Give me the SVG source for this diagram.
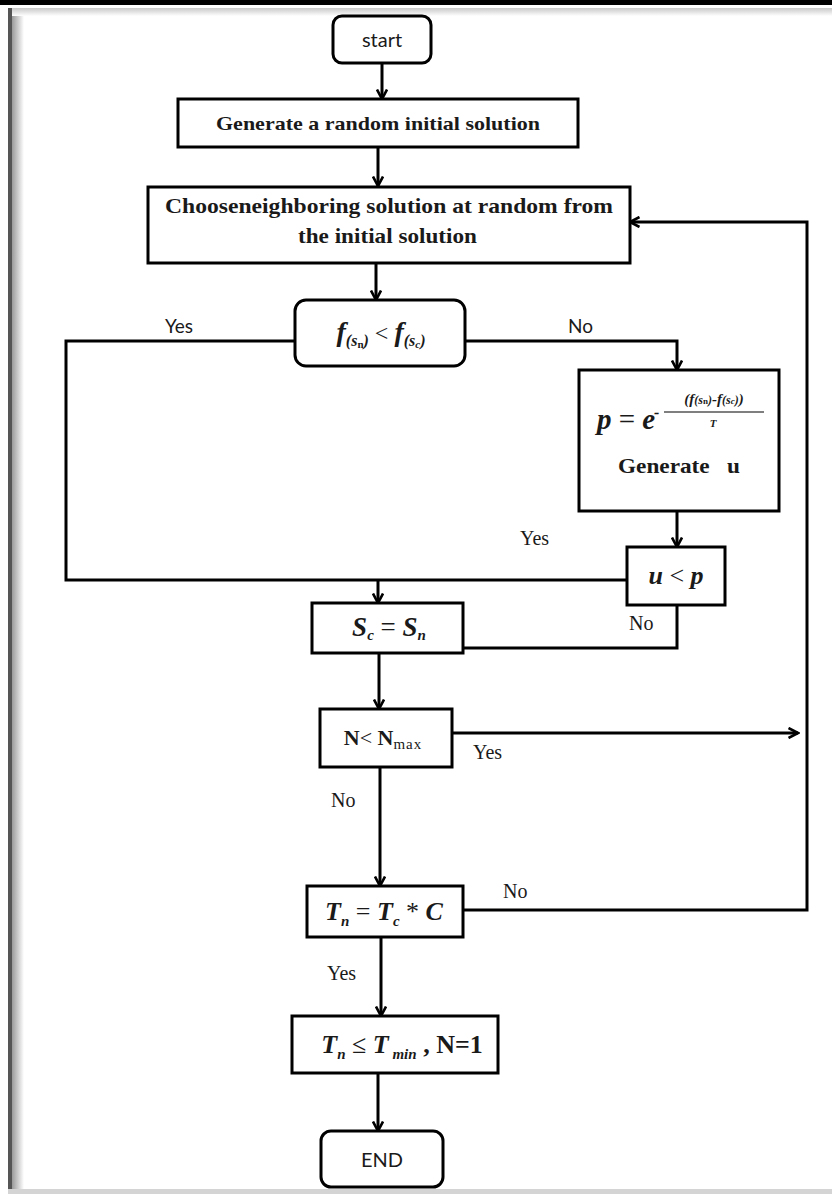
<svg xmlns="http://www.w3.org/2000/svg" width="832" height="1194" viewBox="0 0 832 1194">
<defs>
<marker id="arr" viewBox="0 0 12 12" refX="10.5" refY="6" markerWidth="12" markerHeight="12" markerUnits="userSpaceOnUse" orient="auto">
<path d="M1,1 L10.5,6 L1,11" fill="none" stroke="#000" stroke-width="2.6"/>
</marker>
<linearGradient id="gl" x1="0" y1="0" x2="1" y2="0">
<stop offset="0" stop-color="#9a9a9a"/><stop offset="1" stop-color="#ffffff"/>
</linearGradient>
<linearGradient id="gt" x1="0" y1="0" x2="0" y2="1">
<stop offset="0" stop-color="#c8c8c8"/><stop offset="1" stop-color="#ffffff"/>
</linearGradient>
</defs>
<style>
.box{fill:#fff;stroke:#000;stroke-width:3}
.con{fill:none;stroke:#000;stroke-width:3}
.arw{fill:none;stroke:#000;stroke-width:3;marker-end:url(#arr)}
.sb{font-family:"Liberation Serif",serif;font-weight:bold;fill:#1a1a1a}
.mi{font-family:"Liberation Serif",serif;font-weight:bold;font-style:italic;fill:#1a1a1a}
.ss{font-family:Lato,"Liberation Sans",sans-serif;fill:#1a1a1a}
.sl{font-family:"Liberation Serif",serif;fill:#1a1a1a;font-size:20px}
</style>
<rect x="0" y="0" width="832" height="1194" fill="#fff"/>
<g id="frame">
<rect x="12" y="8" width="12" height="1182" fill="url(#gl)"/>
<rect x="12" y="8" width="820" height="8" fill="url(#gt)"/>
<rect x="8" y="8" width="4" height="1186" fill="#555"/>
<rect x="0" y="0" width="832" height="5" fill="#000"/>
<rect x="8" y="1189" width="824" height="5" fill="#d4d4d4"/>
</g>
<g id="connectors">
<path class="arw" d="M382 63 V99"/>
<path class="arw" d="M378 147 V186"/>
<path class="arw" d="M376 263 V300"/>
<path class="con" d="M295 341 H66 V580 H627"/>
<path class="arw" d="M378 580 V603"/>
<path class="arw" d="M465 341 H677 V370"/>
<path class="arw" d="M677 511 V547"/>
<path class="arw" d="M677 605 V648 H400"/>
<path class="arw" d="M379 653 V709"/>
<path class="arw" d="M452 733 H798"/>
<path class="arw" d="M380 767 V886"/>
<path class="arw" d="M463 910 H807 V222 H630"/>
<path class="arw" d="M381 937 V1016"/>
<path class="arw" d="M378 1073 V1131"/>
</g>
<g id="labels">
<text class="ss" x="165" y="333" font-size="19">Yes</text>
<text class="ss" x="568" y="333" font-size="19">No</text>
<text class="sl" x="520" y="545">Yes</text>
<text class="sl" x="629" y="630">No</text>
<text class="sl" x="473" y="759">Yes</text>
<text class="sl" x="331" y="807">No</text>
<text class="sl" x="503" y="898">No</text>
<text class="sl" x="327" y="980">Yes</text>
</g>
<g id="start">
<rect class="box" x="333" y="16" width="98" height="47" rx="9"/>
<text class="ss" x="382" y="47" font-size="20" text-anchor="middle">start</text>
</g>
<g id="generate">
<rect class="box" x="178" y="99" width="400" height="48"/>
<text class="sb" x="216" y="130" font-size="19" textLength="324" lengthAdjust="spacingAndGlyphs">Generate a random initial solution</text>
</g>
<g id="choose">
<rect class="box" x="148" y="187" width="482" height="76"/>
<text class="sb" x="165" y="213" font-size="21" textLength="448" lengthAdjust="spacingAndGlyphs">Chooseneighboring solution at random from</text>
<text class="sb" x="298" y="243" font-size="21" textLength="179" lengthAdjust="spacingAndGlyphs">the initial solution</text>
</g>
<g id="compare">
<rect class="box" x="295" y="300" width="170" height="66" rx="11"/>
<text class="mi" x="381" y="341" font-size="28" text-anchor="middle">f<tspan font-size="16" dy="5">(s</tspan><tspan font-size="11" dy="2" font-style="normal">n</tspan><tspan font-size="16" dy="-2">)</tspan><tspan font-size="24" dy="-5" font-style="normal" font-weight="normal"> &lt; </tspan>f<tspan font-size="16" dy="5">(s</tspan><tspan font-size="11" dy="2">c</tspan><tspan font-size="16" dy="-2">)</tspan></text>
</g>
<g id="probability">
<rect class="box" x="579" y="370" width="200" height="141"/>
<text class="mi" x="597" y="429" font-size="29">p<tspan font-style="normal" font-weight="normal"> = </tspan>e</text>
<text class="mi" x="654" y="418" font-size="16" fill="#444">-</text>
<line x1="664" y1="412" x2="764" y2="412" stroke="#555" stroke-width="1.5"/>
<text class="mi" x="714" y="404" font-size="15" text-anchor="middle" fill="#555" font-weight="normal">(f<tspan font-size="12">(s</tspan><tspan font-size="9" font-weight="bold" font-style="normal">n</tspan><tspan font-size="12">)</tspan>-f<tspan font-size="12">(s</tspan><tspan font-size="9">c</tspan><tspan font-size="12">)</tspan>)</text>
<text class="mi" x="713" y="427" font-size="11" text-anchor="middle" fill="#555" font-weight="normal">T</text>
<text class="sb" x="618" y="473" font-size="22" textLength="122" lengthAdjust="spacingAndGlyphs" xml:space="preserve">Generate   u</text>
</g>
<g id="accept">
<rect class="box" x="627" y="547" width="98" height="58"/>
<text class="mi" x="676" y="584" font-size="26" text-anchor="middle">u<tspan font-style="normal" font-weight="normal"> &lt; </tspan>p</text>
</g>
<g id="update">
<rect class="box" x="312" y="603" width="151" height="50"/>
<text class="mi" x="389" y="636" font-size="27" text-anchor="middle">S<tspan font-size="15" dy="4">c</tspan><tspan dy="-4" font-style="normal" font-weight="normal"> = </tspan>S<tspan font-size="15" dy="4">n</tspan></text>
</g>
<g id="counter">
<rect class="box" x="320" y="709" width="132" height="58"/>
<text class="sb" x="383" y="745" font-size="22" text-anchor="middle">N<tspan font-weight="normal">&lt; </tspan>N<tspan font-size="15" dy="4" font-weight="normal" letter-spacing="1">max</tspan></text>
</g>
<g id="cooling">
<rect class="box" x="307" y="886" width="156" height="51"/>
<text class="mi" x="384" y="920" font-size="26" text-anchor="middle">T<tspan font-size="15" dy="6">n</tspan><tspan dy="-6" font-style="normal" font-weight="normal"> = </tspan>T<tspan font-size="15" dy="6">c</tspan><tspan dy="-6" font-style="normal" font-weight="normal"> * </tspan>C</text>
</g>
<g id="check">
<rect class="box" x="292" y="1016" width="206" height="57"/>
<text class="mi" x="402" y="1053" font-size="26" text-anchor="middle">T<tspan font-size="15" dy="6">n</tspan><tspan dy="-6" font-style="normal" font-weight="normal"> ≤ </tspan>T<tspan font-size="15" dy="6"> min</tspan><tspan dy="-6" font-style="normal"> , N=1</tspan></text>
</g>
<g id="end">
<rect class="box" x="321" y="1131" width="122" height="56" rx="10"/>
<text class="ss" x="382" y="1167" font-size="20" text-anchor="middle">END</text>
</g>
</svg>
